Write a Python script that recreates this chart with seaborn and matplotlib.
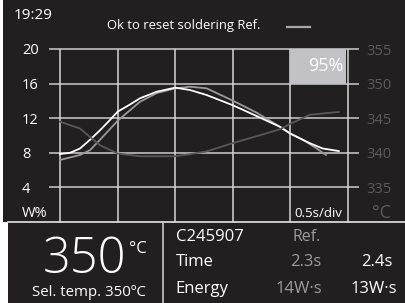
import numpy as np
import pandas as pd
import matplotlib
matplotlib.use("Agg")
import matplotlib.pyplot as plt
import seaborn as sns
from matplotlib.patches import Rectangle
from matplotlib.lines import Line2D

# ---------------- data ----------------
t_power = [0, 0.087, 0.174, 0.26, 0.347, 0.434, 0.5, 0.61, 0.694, 0.839, 1.0,
           1.128, 1.273, 1.5, 1.707, 1.91, 2.0, 2.17, 2.28, 2.42]
power = [7.86, 8.0, 8.5, 9.5, 10.6, 11.8, 12.75, 13.6, 14.3, 15.06, 15.53,
         15.26, 14.68, 13.5, 12.25, 11.0, 10.2, 9.1, 8.5, 8.2]

t_ref = [0, 0.174, 0.26, 0.347, 0.5, 0.694, 0.839, 1.0, 1.128, 1.273, 1.5,
         1.707, 1.91, 2.0, 2.109, 2.228, 2.309]
ref_power = [7.17, 7.75, 8.3, 9.5, 11.7, 13.9, 14.9, 15.45, 15.64, 15.45, 14.03,
             12.64, 11.0, 10.25, 9.5, 8.5, 7.75]

t_temp = [0, 0.174, 0.26, 0.347, 0.5, 0.694, 1.0, 1.128, 1.273, 1.5, 1.707,
          1.91, 2.0, 2.17, 2.42]
temp = [344.5, 343.5, 342.3, 341.1, 339.9, 339.5, 339.5, 339.8, 340.2, 341.4,
        342.4, 343.4, 344.2, 345.5, 345.9]

power_ticks = [4, 8, 12, 16, 20]
temp_ticks = [335, 340, 345, 350, 355]
time_divs = [0, 0.5, 1.0, 1.5, 2.0, 2.5]

clock = "19:29"
title = "Ok to reset soldering Ref."
power_pct = "95%"
set_temp = "350"
sel_temp = "Sel. temp. 350ºC"
tool_id = "C245907"
ref_label = "Ref."
time_ref, time_cur = "2.3s", "2.4s"
energy_ref, energy_cur = "14W·s", "13W·s"

# ---------------- style ----------------
W, H = 406, 303
BG = "#221f20"
GRAYTXT = "#9c9c9c"
AXGRAY = "#5a5a5a"
plt.rcParams["font.family"] = ["Open Sans", "DejaVu Sans"]

fig = plt.figure(figsize=(W / 100, H / 100), dpi=100, facecolor="white")

# dark screen background
fig.patches.append(Rectangle((3 / W, (H - 222) / H), 1, 1, transform=fig.transFigure,
                             facecolor=BG, edgecolor="none", zorder=-5))
fig.patches.append(Rectangle((8 / W, 0), 1, (H - 222) / H, transform=fig.transFigure,
                             facecolor=BG, edgecolor="none", zorder=-5))


def px(x, y):
    return x / W, 1 - y / H


def ftext(x, y, s, **kw):
    kw.setdefault("va", "baseline")
    kw.setdefault("color", "white")
    fig.text(*px(x, y), s, **kw)


# ---------------- main chart ----------------
x0 = (50 - 60) / 115.2
x1 = (358 - 60) / 115.2
ax = fig.add_axes([50 / W, (H - 222) / H, 308 / W, 173 / H])
ax.set_facecolor("none")
ax.set_xlim(x0, x1)
ax.set_ylim(0, 20)
for s in ax.spines.values():
    s.set_visible(False)

for v in power_ticks:
    ax.axhline(v, color="#a8a8a8", lw=1.4, clip_on=False, zorder=1)
for t in time_divs:
    ax.axvline(t, color="#d6d6d6", lw=1.1, zorder=1)

# 95% box
ax.add_patch(Rectangle((2.0, 16), 0.48, 4, facecolor="#c2c2c6", edgecolor="none", zorder=2))

ax2 = ax.twinx()
ax2.set_ylim(330, 355)
ax2.set_xlim(x0, x1)
for s in ax2.spines.values():
    s.set_visible(False)

sns.lineplot(x=t_temp, y=temp, ax=ax2, color="#585858", lw=1.3, zorder=3)
sns.lineplot(x=t_ref, y=ref_power, ax=ax, color="#9a9a9a", lw=1.3, zorder=4)
sns.lineplot(x=t_power, y=power, ax=ax, color="white", lw=1.3, zorder=5)
ax.set_xlabel("")
ax.set_ylabel("")
ax2.set_ylabel("")
ax.set_xticks([])
ax2.set_xticks([])

ax.set_yticks(power_ticks)
ax.set_yticklabels([str(v) for v in power_ticks])
ax.tick_params(axis="y", length=0, pad=20.2, labelsize=10.5, labelcolor="white")
for lbl in ax.get_yticklabels():
    lbl.set_horizontalalignment("left")

ax2.set_yticks(temp_ticks)
ax2.set_yticklabels([str(v) for v in temp_ticks])
ax2.tick_params(axis="y", length=0, pad=5.8, labelsize=10.5, labelcolor=AXGRAY)

ax.text(2.465, 18, power_pct, ha="right", va="center", color="white", fontsize=13, zorder=6)

# axis unit labels
ftext(22, 217, "W%", fontsize=10.5)
ftext(294, 217, "0.5s/div", fontsize=9.5)
ftext(372, 218, "°C", fontsize=13, color=AXGRAY)

# top bar
ftext(14, 19, clock, fontsize=11)
ftext(107, 29.3, title, fontsize=9.4)
fig.lines.append(Line2D([287 / W, 310 / W], [1 - 27 / H, 1 - 27 / H], transform=fig.transFigure,
                        color="#a8a8a8", lw=1.6))

# separators
fig.lines.append(Line2D([8 / W, 1], [1 - 222 / H, 1 - 222 / H], transform=fig.transFigure,
                        color="#e6e6e6", lw=1.2))
fig.lines.append(Line2D([163 / W, 163 / W], [0, 1 - 222 / H], transform=fig.transFigure,
                        color="#c8c8c8", lw=1.2))

# bottom left panel
ftext(43, 273, set_temp, fontsize=35, fontweight="light")
ftext(129, 253, "°C", fontsize=12)
ftext(32, 296, sel_temp, fontsize=10.8)

# bottom right panel
ftext(176, 241, tool_id, fontsize=12)
ftext(293, 241, ref_label, fontsize=11.5, color=GRAYTXT)
ftext(176, 266.5, "Time", fontsize=12)
ftext(321, 266.5, time_ref, fontsize=12, color=GRAYTXT, ha="right")
ftext(393, 266.5, time_cur, fontsize=12, ha="right")
ftext(175, 293, "Energy", fontsize=12)
ftext(322, 293, energy_ref, fontsize=12, color=GRAYTXT, ha="right")
ftext(397, 293, energy_cur, fontsize=12, ha="right")

fig.savefig("out.png", dpi=100, facecolor=fig.get_facecolor())
